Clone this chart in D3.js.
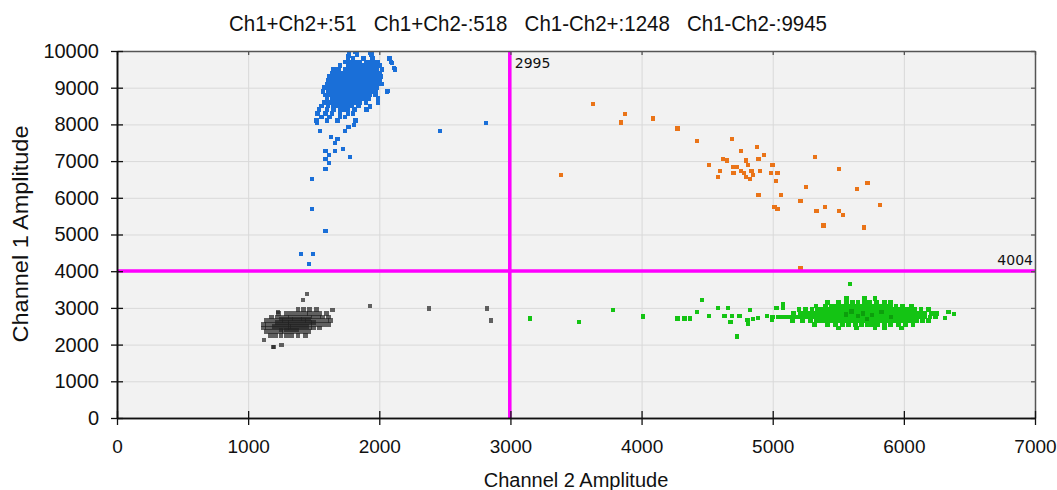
<!DOCTYPE html>
<html>
<head>
<meta charset="utf-8">
<script src="https://cdn.jsdelivr.net/npm/d3@7/dist/d3.min.js"></script>
<style>
body{margin:0;background:#fff;}
text{font-family:"Liberation Sans",Arial,sans-serif;fill:#111;}
.grid line{stroke:#d9d9d9;}
.grid path{display:none;}
</style>
</head>
<body>
<div id="chart"></div>
<script>
//ddPCR 2d amplitude plot - d3

var quadrantNames = ["Ch1+Ch2+","Ch1+Ch2-","Ch1-Ch2+","Ch1-Ch2-"];
var quadrantCounts = [51,518,1248,9945];
var ch2Threshold = 2995;
var ch1Threshold = 4004;
var xTickValues = [0,1000,2000,3000,4000,5000,6000,7000];
var yTickValues = [0,1000,2000,3000,4000,5000,6000,7000,8000,9000,10000];

// points are [channel 2, channel 1]
// Ch1+Ch2+ (orange)
var doublePositive = [
  [3629,8553],[3387,6626],[3845,8050],[3872,8279],[4088,8160],[4274,7886],[4423,7557],[4689,7612],
  [4514,6900],[4584,6571],[4599,6735],[4622,7064],[4651,7018],[4701,6845],[4724,6845],[4701,6680],
  [4756,7283],[4756,6735],[4780,6680],[4797,7018],[4812,6900],[4797,6571],[4826,6516],[4838,6735],
  [4852,6626],[4879,7393],[4891,7064],[4905,6735],[4932,7174],[4891,6078],[4987,6680],[4999,6900],
  [5036,6680],[5025,6461],[5063,6078],[5013,5749],[5036,5694],[5212,5904],[5255,6297],[5320,7119],
  [5334,5630],[5398,5749],[5387,5247],[5507,6790],[5507,5630],[5533,5521],[5642,6233],[5723,6406],
  [5696,5192],[5816,5804],[5212,4096]
];

// Ch1+Ch2- (blue) - scattered points
var ch1OnlySparse = [
  [2463,7830],[2813,8040],[1484,6510],[1484,5695],[1590,5095],[1590,6785],[1617,6950],[1590,7060],
  [1590,7275],[1617,7165],[1660,7275],[1725,7330],[1779,7110],[1631,7665],[1682,7600],[1660,7490],
  [1547,7830],[1524,8045],[1529,8320],[1807,7990],[1738,7830],[1765,7920],[2063,8920],[2115,9530],
  [2095,9665],[2077,9800],[1992,8620],[1904,8390],[1930,8480],[1816,9980],[1930,9955],[1765,9865],
  [1402,4470],[1496,4470],[1466,4195]
];
// Ch1+Ch2- (blue) - dense cluster, rows of [channel 1, channel 2 values]
var ch1OnlyRows = [
  [9900,[1770,1830,1940]],
  [9800,[1760,1800,1880,1950,2080]],
  [9700,[1740,1775,1810,1850,1900,1930,1960,1990,2090]],
  [9600,[1700,1760,1790,1820,1850,1880,1910,1940,1970,2000]],
  [9500,[1650,1690,1740,1770,1800,1830,1860,1890,1920,1950,1980,2020,2120]],
  [9400,[1640,1670,1700,1730,1760,1790,1820,1850,1880,1910,1940,1970,2000]],
  [9300,[1620,1650,1680,1710,1740,1770,1800,1830,1860,1890,1920,1950,1980,2010]],
  [9200,[1610,1640,1670,1700,1730,1760,1790,1820,1850,1880,1910,1940,1970,2000]],
  [9100,[1600,1630,1660,1690,1720,1750,1780,1810,1840,1870,1900,1930,1960,1990,2020]],
  [9000,[1580,1620,1650,1680,1710,1740,1770,1800,1830,1860,1890,1920,1950,1980]],
  [8900,[1570,1610,1640,1670,1700,1730,1760,1790,1820,1850,1880,1910,1940,1975,2060]],
  [8800,[1590,1630,1660,1690,1720,1750,1780,1810,1840,1870,1900,1930,1970]],
  [8700,[1600,1640,1670,1700,1730,1760,1790,1820,1850,1880,1920,1990]],
  [8600,[1580,1620,1660,1690,1720,1750,1780,1810,1850,1900,1990]],
  [8500,[1560,1610,1650,1690,1720,1750,1790,1840,1930]],
  [8400,[1540,1600,1650,1700,1730,1760,1810,1900]],
  [8300,[1530,1590,1640,1700,1760,1800]],
  [8200,[1560,1620,1700,1740]],
  [8100,[1520,1600,1680,1820]]
];

// Ch1-Ch2+ (green)
var ch2OnlySparse = [
  [3149,2709],[3522,2609],[3780,2936],[4008,2764],[4274,2709],[4327,2709],[4370,2709],[4423,2882],
  [4462,3209],[4516,2773],[4583,2991],[4633,2773],[4662,2991],[4678,2609],[4692,2773],[4729,2218],
  [4746,2773],[4807,2664],[4813,2555],[4827,2936],[4852,2700],[4889,2718],[4959,2773],[4995,2664],
  [5029,2991],[5077,3100],[5077,2991],[5590,3655],[6315,2718],[6382,2827],[6340,2882]
];
var ch2OnlyRows = [
  [3250,[5560,5700,5780]],
  [3150,[5420,5500,5560,5610,5650,5700,5740,5790,5850,5900]],
  [3050,[5330,5400,5445,5480,5515,5550,5585,5620,5655,5690,5725,5760,5795,5830,5865,5900,5940,5990,6060]],
  [2950,[5200,5250,5300,5340,5375,5410,5445,5480,5515,5550,5585,5620,5655,5690,5725,5760,5795,5830,5865,5900,5935,5970,6005,6040,6080,6130,6190]],
  [2850,[5160,5210,5245,5280,5315,5350,5385,5420,5455,5490,5525,5560,5595,5630,5665,5700,5735,5770,5805,5840,5875,5910,5945,5980,6015,6050,6085,6120,6160,6210,6250]],
  [2750,[5000,5040,5075,5110,5145,5180,5215,5250,5285,5320,5355,5390,5425,5460,5495,5530,5565,5600,5635,5670,5705,5740,5775,5810,5845,5880,5915,5950,5985,6020,6055,6090,6125,6160,6200,6240]],
  [2650,[5150,5230,5290,5330,5365,5400,5435,5470,5505,5540,5575,5610,5645,5680,5715,5750,5785,5820,5855,5890,5925,5960,5995,6030,6065,6100,6140,6190]],
  [2550,[5320,5420,5480,5530,5580,5630,5680,5720,5760,5800,5850,5900,5960,6010,6070]],
  [2450,[5500,5640,5780,5850,5980]]
];
// darker droplets in the middle of the green cluster
var ch2OnlyCore = [
  [5600,2900],[5690,2850],[5760,2800],[5650,2780],[5830,2880],[5720,2700],[5560,2820],[5900,2760]
];

// Ch1-Ch2- (gray)
var doubleNegSparse = [
  [1446,3380],[1420,3215],[1644,2943],[1929,3045],[2382,2982],[2824,2982],[2852,2655],[1120,2118],
  [1191,1936],[1198,1936],[1254,2000],[1227,2880]
];
var doubleNegRows = [
  [2950,[1380,1420,1470,1520]],
  [2850,[1230,1290,1330,1365,1400,1435,1470,1505,1545,1600]],
  [2750,[1180,1220,1255,1290,1325,1360,1395,1430,1465,1500,1535,1570,1610]],
  [2700,[1250,1285,1320,1355,1390,1425,1460]],
  [2650,[1140,1175,1210,1245,1280,1315,1350,1385,1420,1455,1490,1525,1560,1600,1630]],
  [2600,[1220,1255,1290,1325,1360,1395,1430,1465,1500]],
  [2550,[1120,1150,1185,1220,1255,1290,1325,1360,1395,1430,1465,1500,1535,1575,1610]],
  [2500,[1200,1235,1270,1305,1340,1375,1410,1445]],
  [2450,[1115,1150,1185,1220,1255,1290,1325,1360,1395,1430,1465,1500,1545]],
  [2400,[1250,1290,1330,1370]],
  [2350,[1140,1175,1210,1245,1280,1315,1350,1385,1420,1460]],
  [2250,[1170,1210,1250,1290,1330,1380,1440]]
];

function rowsToPoints(rows){
    return rows.flatMap(r => r[1].map(v => [v, r[0]]));
}

var W = 1057, H = 490;
var plotL = 117, plotR = 1035, plotT = 51, plotB = 418;

var x = d3.scaleLinear().domain([0,7000]).range([plotL,plotR]);
var y = d3.scaleLinear().domain([0,10000]).range([plotB,plotT]);

var svg = d3.select("#chart").append("svg")
    .attr("width",W)
    .attr("height",H);

svg.append("defs").append("clipPath")
    .attr("id","plotclip")
    .append("rect")
    .attr("x",plotL).attr("y",plotT)
    .attr("width",plotR-plotL).attr("height",plotB-plotT);

//background
svg.append("rect")
    .attr("x",plotL).attr("y",plotT)
    .attr("width",plotR-plotL).attr("height",plotB-plotT)
    .attr("fill","#f2f2f2");

//grid line
svg.append("g")
    .attr("class","grid")
    .attr("transform","translate(0,"+plotB+")")
    .call(d3.axisBottom(x).tickValues(xTickValues.slice(1,-1)).tickSize(-(plotB-plotT)).tickFormat(""));
svg.append("g")
    .attr("class","grid")
    .attr("transform","translate("+plotL+",0)")
    .call(d3.axisLeft(y).tickValues(yTickValues.slice(1,-1)).tickSize(-(plotR-plotL)).tickFormat(""));

//droplets
var dots = svg.append("g")
    .attr("clip-path","url(#plotclip)")
    .attr("shape-rendering","crispEdges");
function drawDroplets(pts, fill, opacity, sz){
    dots.append("g")
        .selectAll("rect")
        .data(pts)
        .enter()
        .append("rect")
        .attr("x", d => x(d[0]) - sz/2)
        .attr("y", d => y(d[1]) - sz/2)
        .attr("width", sz)
        .attr("height", sz)
        .attr("fill", fill)
        .attr("fill-opacity", opacity);
}
drawDroplets(doubleNegSparse, "#222", 0.7, 4.2);
drawDroplets(rowsToPoints(doubleNegRows), "#222", 0.7, 4.8);
drawDroplets(ch2OnlySparse, "#14c414", 1, 4.2);
drawDroplets(rowsToPoints(ch2OnlyRows), "#14c414", 1, 4.8);
drawDroplets(ch2OnlyCore, "#0a960a", 0.8, 4.2);
drawDroplets(ch1OnlySparse, "#1a6fd8", 1, 4.2);
drawDroplets(rowsToPoints(ch1OnlyRows), "#1a6fd8", 1, 4.6);
drawDroplets(doublePositive, "#ea7418", 1, 4.2);

//threshold lines
svg.append("line")
    .attr("x1",x(ch2Threshold)).attr("x2",x(ch2Threshold))
    .attr("y1",y(0)).attr("y2",y(10000))
    .attr("stroke","#ff00ff").attr("stroke-width",3.5);
svg.append("line")
    .attr("x1",x(0)).attr("x2",x(7000))
    .attr("y1",y(ch1Threshold)).attr("y2",y(ch1Threshold))
    .attr("stroke","#ff00ff").attr("stroke-width",3.5);
svg.append("text")
    .attr("x",x(ch2Threshold)+5).attr("y",plotT+17)
    .style("font-family","'DejaVu Sans',sans-serif")
    .style("font-size","14px")
    .text(ch2Threshold);
svg.append("text")
    .attr("x",plotR-2).attr("y",y(ch1Threshold)-6)
    .attr("text-anchor","end")
    .style("font-family","'DejaVu Sans',sans-serif")
    .style("font-size","14px")
    .text(ch1Threshold);

//frame (top / right)
function frameAxis(g, color){
    g.select(".domain").attr("stroke",color).attr("stroke-width",1.5);
    g.selectAll(".tick line").attr("stroke",color).attr("stroke-width",1.3);
    g.selectAll(".tick text").remove();
}
svg.append("g")
    .attr("transform","translate(0,"+plotT+")")
    .call(d3.axisBottom(x).tickValues(xTickValues).tickSize(4).tickSizeOuter(0))
    .call(g => frameAxis(g,"#555"));
svg.append("g")
    .attr("transform","translate("+plotR+",0)")
    .call(d3.axisLeft(y).tickValues(yTickValues).tickSize(4).tickSizeOuter(0))
    .call(g => frameAxis(g,"#555"));

//inner half of the main ticks
svg.append("g")
    .attr("transform","translate("+plotL+",0)")
    .call(d3.axisRight(y).tickValues(yTickValues).tickSize(6).tickSizeOuter(0))
    .call(g => frameAxis(g,"#111"));
svg.append("g")
    .attr("transform","translate(0,"+plotB+")")
    .call(d3.axisTop(x).tickValues(xTickValues).tickSize(7).tickSizeOuter(0))
    .call(g => frameAxis(g,"#111"));

//axis
var y_axis = svg.append("g")
    .attr("transform","translate("+plotL+",0)")
    .call(d3.axisLeft(y).tickValues(yTickValues).tickFormat(d3.format("d")).tickSize(6).tickSizeOuter(0).tickPadding(12));
var x_axis = svg.append("g")
    .attr("transform","translate(0,"+plotB+")")
    .call(d3.axisBottom(x).tickValues(xTickValues).tickFormat(d3.format("d")).tickSize(7).tickSizeOuter(0).tickPadding(15));
[y_axis,x_axis].forEach(function(a){
    a.select(".domain").attr("stroke","#111").attr("stroke-width",1.6);
    a.selectAll(".tick line").attr("stroke","#111").attr("stroke-width",1.3);
    a.selectAll(".tick text")
        .attr("fill","#111")
        .style("font-family","'Liberation Sans',Arial,sans-serif");
});
y_axis.selectAll(".tick text").style("font-size","20px");
x_axis.selectAll(".tick text").style("font-size","19px");

//labels
svg.append("text")
    .attr("x",528).attr("y",31)
    .attr("text-anchor","middle")
    .attr("textLength",598)
    .attr("lengthAdjust","spacingAndGlyphs")
    .style("font-size","22px")
    .attr("xml:space","preserve")
    .text(quadrantNames.map((n,i) => n + ":" + quadrantCounts[i]).join("   "));

svg.append("text")
    .attr("x",(plotL+plotR)/2).attr("y",487)
    .attr("text-anchor","middle")
    .style("font-size","20px")
    .text("Channel 2 Amplitude");

svg.append("text")
    .attr("transform","translate(28,234) rotate(-90)")
    .attr("text-anchor","middle")
    .attr("textLength",217)
    .attr("lengthAdjust","spacingAndGlyphs")
    .style("font-size","22px")
    .text("Channel 1 Amplitude");
</script>
</body>
</html>
